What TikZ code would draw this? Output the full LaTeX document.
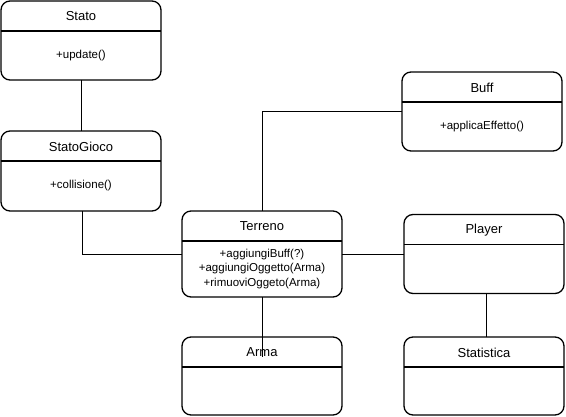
\documentclass[tikz,border=0pt]{standalone}
\usepackage{fontspec}
\setmainfont{Liberation Sans}
\usetikzlibrary{calc, positioning}

\tikzset{
    classbox/.style={draw, line width=1.3pt, rounded corners=9pt, minimum width=160pt, outer sep=0pt, inner sep=0pt},
    classline/.style={line width=1.3pt},
    classtitle/.style={font=\fontsize{13}{15}\selectfont, inner sep=0pt},
    classmeth/.style={font=\fontsize{11.5}{14.5}\selectfont, align=center, inner sep=0pt},
    assoc/.style={line width=0.9pt}
}

% nom, position, hauteur, titre, methodes
\newcommand{\classe}[5]{%
    \node[classbox, minimum height=#3] (#1) at (#2) {};
    \draw[classline] ([yshift=-30pt]#1.north west) -- ([yshift=-30pt]#1.north east);
    \node[classtitle] (#1-titre) at ([yshift=-15.5pt]#1.north) {#4};
    \node[classmeth] (#1-meth) at ($(#1.south)!0.5!([yshift=-30pt]#1.north)$) {#5};
}

\begin{document}
\begin{tikzpicture}[x=1pt, y=-1pt]
    \useasboundingbox (0,0) rectangle (566,417);

    % Définition des classes
    \classe{stato}{81,40.5}{79pt}{Stato}{+update()}
    \classe{statogioco}{81,171}{80pt}{StatoGioco}{+collisione()}
    \classe{terreno}{262,254}{86pt}{Terreno}{+aggiungiBuff(?)\\+aggiungiOggetto(Arma)\\+rimuoviOggeto(Arma)}
    \classe{arma}{262,376}{78pt}{Arma}{}
    \classe{buff}{482,111.5}{79pt}{Buff}{+applicaEffetto()}
    \classe{player}{484,254}{79pt}{Player}{}
    \classe{statistica}{484,376}{78pt}{Statistica}{}

    \coordinate (armafin) at (262,357);

    % Définition des associations
    \draw[assoc] (stato.south) -- (statogioco.north);
    \draw[assoc] ([xshift=1pt]statogioco.south) |- (terreno.west);
    \draw[assoc] (terreno.north) |- (buff.west);
    \draw[assoc] (terreno.east) -- (player.west);
    \draw[assoc] ([xshift=2pt]player.south) -- ([xshift=2pt]statistica.north);
    \draw[assoc] (terreno.south) -- (armafin);

\end{tikzpicture}
\end{document}
